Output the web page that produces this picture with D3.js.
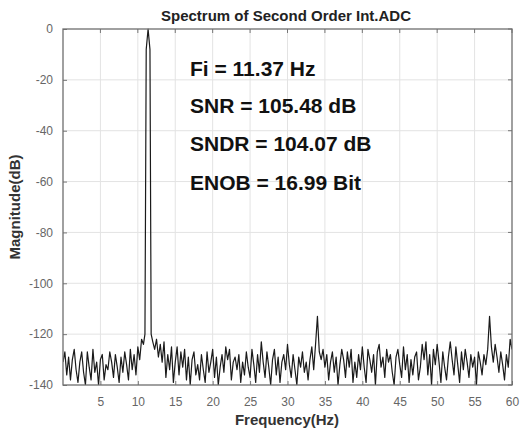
<!DOCTYPE html>
<html><head><meta charset="utf-8">
<script src="https://cdn.jsdelivr.net/npm/d3@7"></script>
<style>body{margin:0;background:#fff}svg{display:block}text{font-family:"Liberation Sans",Arial,sans-serif}</style>
</head><body>
<script>
const title = "Spectrum of Second Order Int.ADC";
const xLabel = "Frequency(Hz)";
const yLabel = "Magnitude(dB)";
const xTicks = [5,10,15,20,25,30,35,40,45,50,55,60];
const yTicks = [0,-20,-40,-60,-80,-100,-120,-140];
const annotations = ["Fi = 11.37 Hz","SNR = 105.48 dB","SNDR = 104.07 dB","ENOB = 16.99 Bit"];
const freqStep = 0.25;
// noise floor magnitudes (dB), one per 0.25 Hz from 0 to 60 Hz; null where the tone is drawn
const noiseMag = [
-131,-127,-136,-129, -138,-130,-126,-134, -139,-131,-127,-135, -140,-127,-133,-138,
-126,-135,-131,-140, -130,-128,-138,-132, -134,-127,-131,-137, -128,-133,-139,-129,
-135,-127,-132,-138, -126,-134,-128,-136, -125,-130,-122,-124, null,null,null,null,
-123,-126,-122,-129, -124,-131,-123,-137, -128,-134,-125,-139, -131,-125,-136,-127,
-133,-126,-138,-129, -140,-130,-127,-136, -132,-138,-128,-134, -139,-127,-135,-131,
-126,-137,-129,-140, -133,-128,-135,-125, -130,-126,-138,-131, -129,-134,-128,-139,
-131,-136,-127,-133, -137,-126,-132,-139, -128,-135,-123,-131, -137,-127,-133,-140,
-130,-126,-136,-129, -139,-131,-128,-134, -124,-132,-137,-128, -134,-140,-129,-133,
-127,-135,-131,-138, -130,-125,-134,-124, -113,-127,-130,-126, -133,-128,-138,-131,
-127,-135,-129,-140, -132,-126,-130,-137, -127,-133,-126,-139, -131,-137,-128,-134,
-125,-133,-139,-126, -130,-135,-128,-140, -127,-124,-133,-129, -137,-126,-131,-128,
-135,-140,-129,-126, -132,-137,-125,-134, -128,-139,-130,-136, -129,-127,-138,-133,
-124,-130,-123,-136, -128,-140,-126,-132, -124,-131,-139,-127, -133,-138,-129,-123,
-130,-136,-125,-132, -139,-127,-134,-126, -131,-137,-128,-133, -129,-140,-127,-131,
-136,-128,-132,-126, -113,-125,-131,-124, -129,-135,-127,-132, -138,-128,-133,-122,
-126];
// the tone at Fi
const toneFreq = [10.95, 11.12, 11.37, 11.62, 11.78];
const toneMag = [-120, -8, 0, -8, -120];

const W = 520, H = 432;
const m = {l:63, t:29, r:8, b:47};
const pw = W - m.l - m.r, ph = H - m.t - m.b;
const svg = d3.select("body").append("svg").attr("width", W).attr("height", H);
const x = d3.scaleLinear().domain([0,60]).range([m.l, m.l+pw]);
const y = d3.scaleLinear().domain([-140,0]).range([m.t+ph, m.t]);

// grid
const g = svg.append("g");
g.selectAll(".vg").data(xTicks.filter(d=>d<60)).enter().append("line")
 .attr("x1",d=>x(d)).attr("x2",d=>x(d)).attr("y1",m.t).attr("y2",m.t+ph)
 .attr("stroke","#e3e3e3").attr("stroke-width",1);
g.selectAll(".hg").data(yTicks.filter(d=>d>-140&&d<0)).enter().append("line")
 .attr("x1",m.l).attr("x2",m.l+pw).attr("y1",d=>y(d)).attr("y2",d=>y(d))
 .attr("stroke","#e3e3e3").attr("stroke-width",1);

// data
const pts = [];
noiseMag.forEach((v,i)=>{ if(v!==null) pts.push([i*freqStep, v]); });
toneFreq.forEach((f,i)=>pts.push([f, toneMag[i]]));
pts.sort((a,b)=>a[0]-b[0]);
svg.append("clipPath").attr("id","cp").append("rect").attr("x",m.l).attr("y",m.t-1).attr("width",pw).attr("height",ph+1);
svg.append("path").datum(pts).attr("clip-path","url(#cp)")
 .attr("fill","none").attr("stroke","#1a1a1a").attr("stroke-width",1.2).attr("stroke-linejoin","round")
 .attr("d", d3.line().x(d=>x(d[0])).y(d=>y(d[1])));

// axes
const ax = d3.axisBottom(x).tickValues(xTicks).tickSize(-4).tickPadding(12).tickFormat(d3.format("d"));
const ay = d3.axisLeft(y).tickValues(yTicks).tickSize(-4).tickPadding(10).tickFormat(d3.format("d"));
const gx = svg.append("g").attr("transform",`translate(0,${m.t+ph})`).call(ax);
const gy = svg.append("g").attr("transform",`translate(${m.l},0)`).call(ay);
[gx,gy].forEach(a=>{
  a.select(".domain").remove();
  a.selectAll("line").attr("stroke","#777");
  a.selectAll("text").attr("fill","#666").style("font-size","12px").style("font-family","Liberation Sans, Arial, sans-serif");
});
gy.selectAll("text").text(d=>d===0?"0":"-"+Math.abs(d));
// top/right ticks
svg.append("g").selectAll("line").data(xTicks).enter().append("line")
 .attr("x1",d=>x(d)).attr("x2",d=>x(d)).attr("y1",m.t).attr("y2",m.t+4).attr("stroke","#777");
svg.append("g").selectAll("line").data(yTicks).enter().append("line")
 .attr("x1",m.l+pw).attr("x2",m.l+pw-4).attr("y1",d=>y(d)).attr("y2",d=>y(d)).attr("stroke","#777");
svg.append("rect").attr("x",m.l).attr("y",m.t).attr("width",pw).attr("height",ph)
 .attr("fill","none").attr("stroke","#6e6e6e").attr("stroke-width",1.3);

// labels
svg.append("text").attr("x",286).attr("y",21).attr("text-anchor","middle")
 .style("font-size","15px").style("font-weight","bold").attr("fill","#222").text(title);
svg.append("text").attr("x",287).attr("y",425).attr("text-anchor","middle")
 .style("font-size","15px").style("font-weight","bold").attr("fill","#333").text(xLabel);
svg.append("text").attr("transform",`translate(20,${m.t+ph/2}) rotate(-90)`).attr("text-anchor","middle")
 .style("font-size","15px").style("font-weight","bold").attr("fill","#333").text(yLabel);

// annotations
const annY = [75.5, 113, 151, 189.5];
svg.selectAll(".ann").data(annotations).enter().append("text")
 .attr("x",190).attr("y",(d,i)=>annY[i])
 .style("font-size","21px").style("font-weight","bold").attr("fill","#111").text(d=>d);
</script>
</body></html>
